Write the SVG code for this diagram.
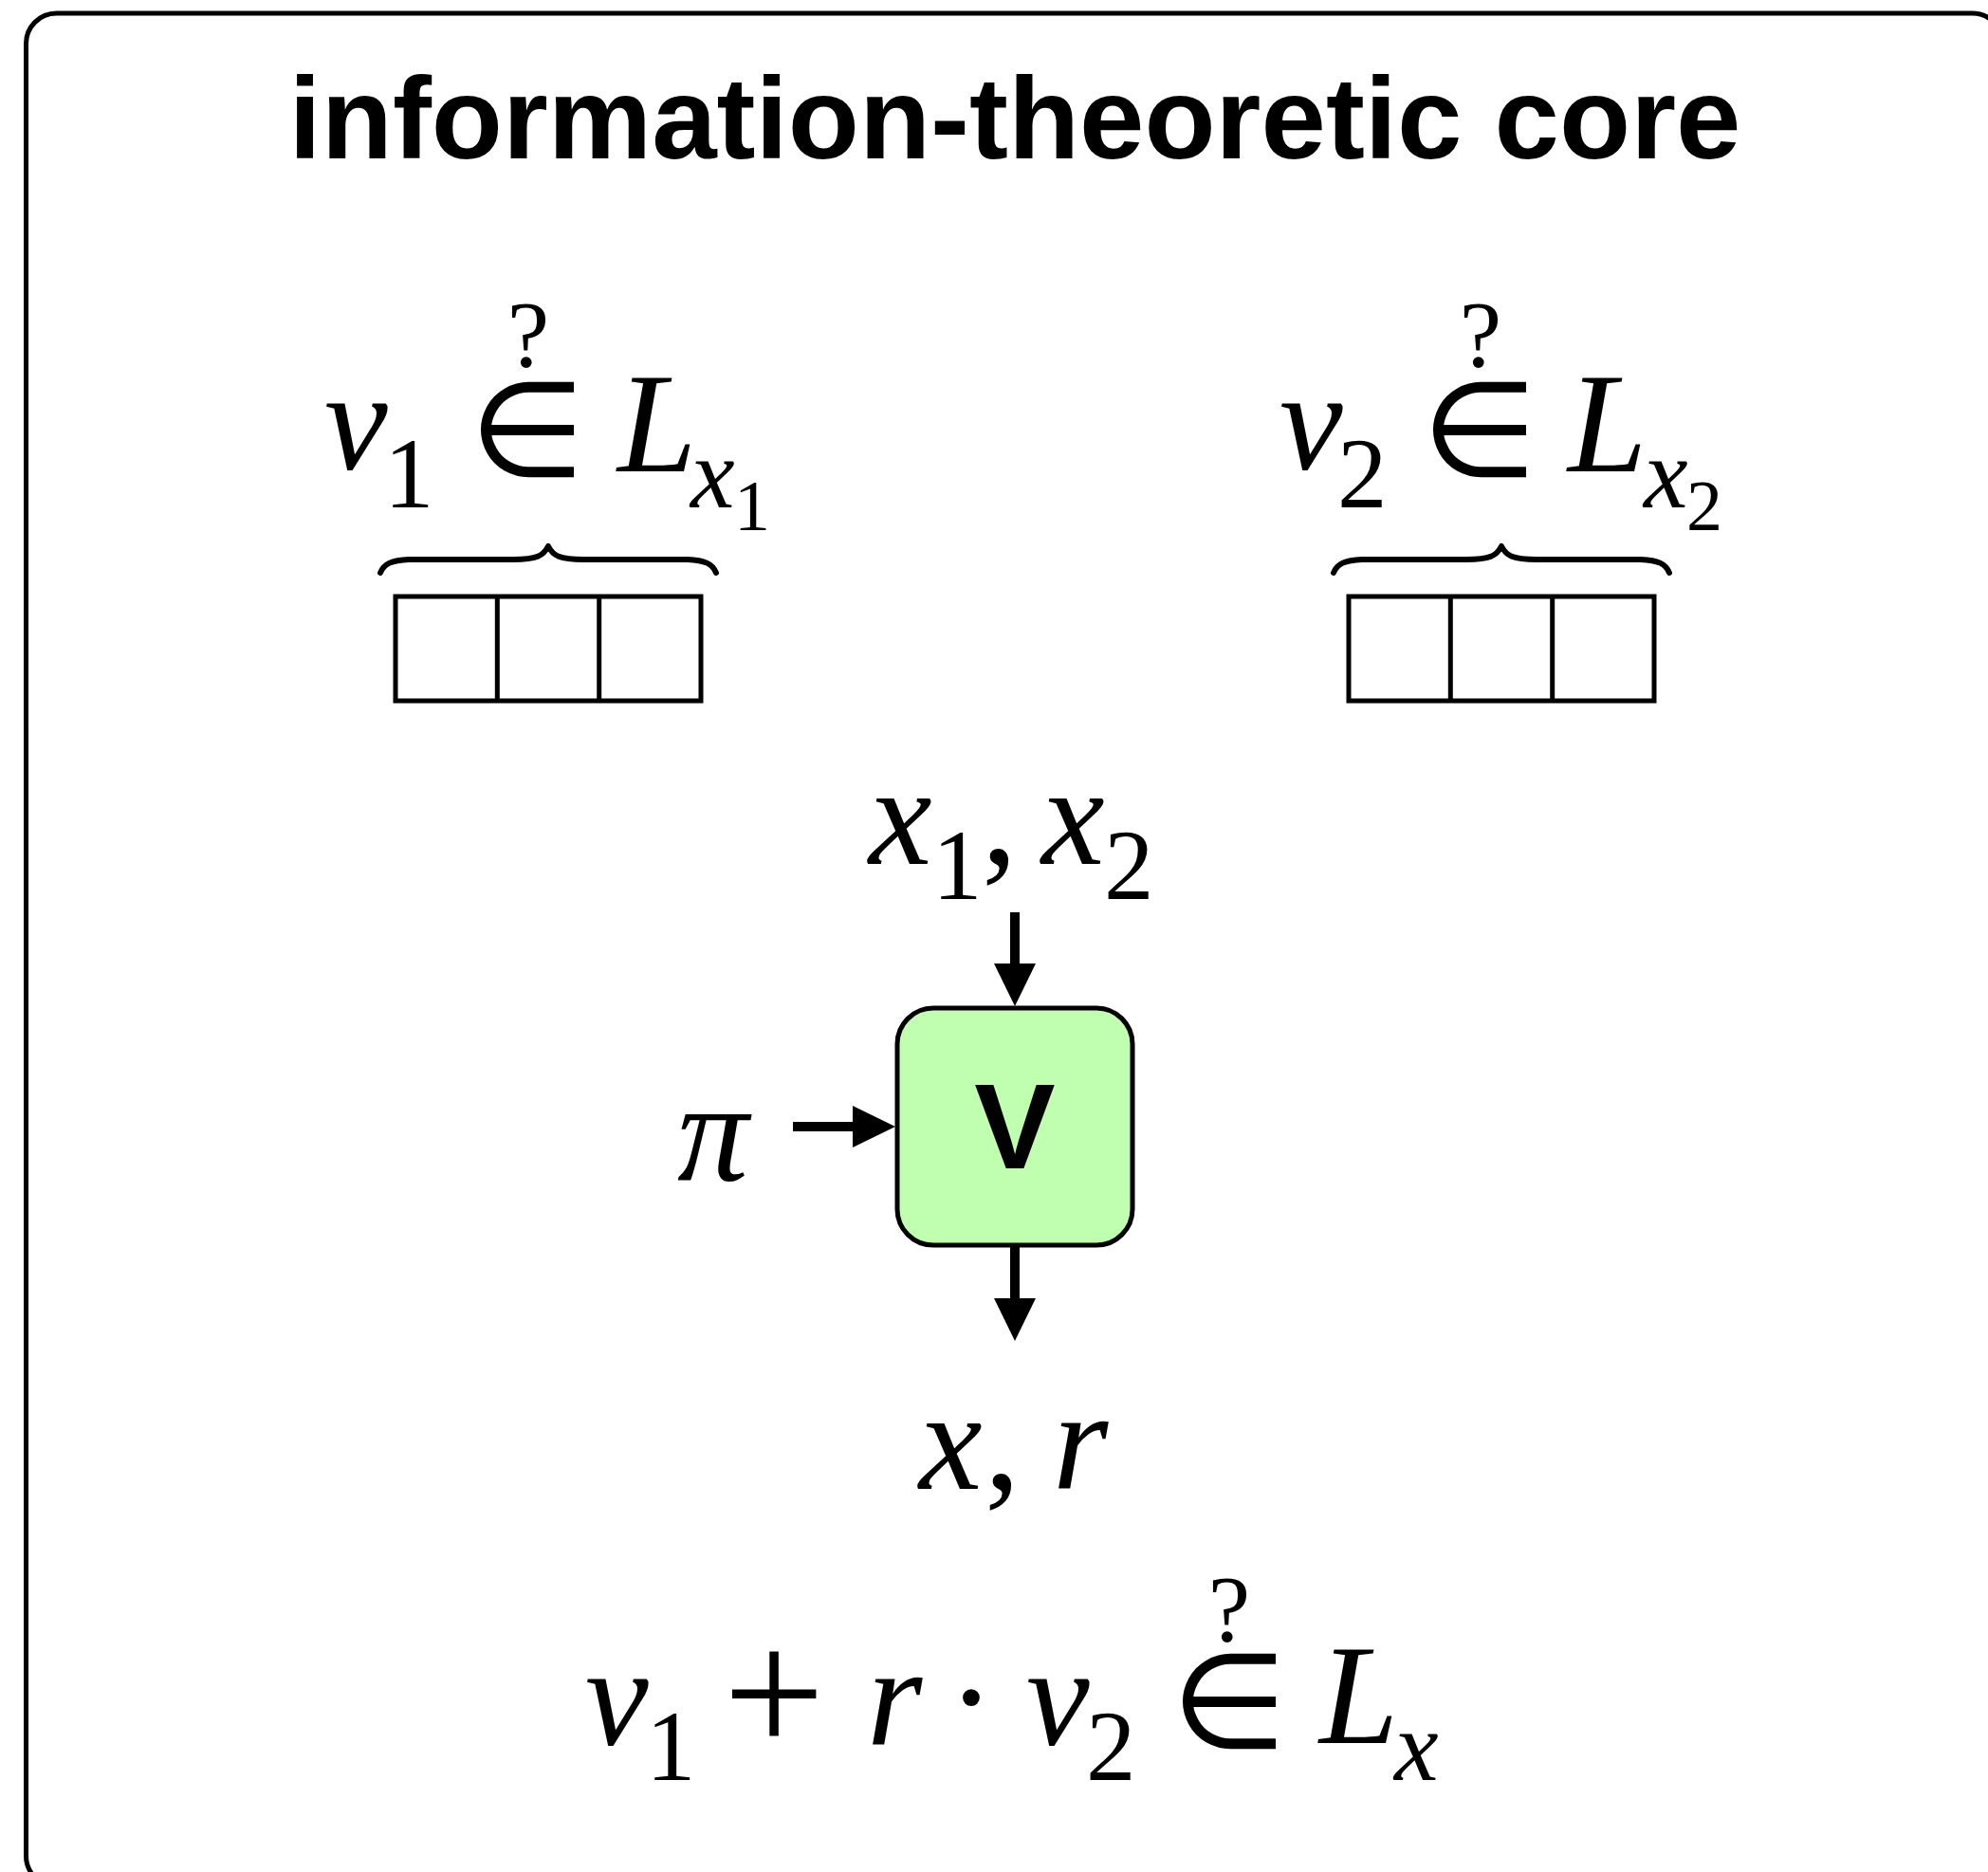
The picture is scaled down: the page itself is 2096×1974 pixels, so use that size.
<svg xmlns="http://www.w3.org/2000/svg" width="2096" height="1974" viewBox="0 0 2096 1974">
<style>
.title{font-family:"Liberation Sans",Arial,sans-serif;font-weight:700;font-size:123px;fill:#000}
.it{font-family:"Liberation Serif","Times New Roman",serif;font-style:italic;font-size:150px;fill:#000}
.sub{font-family:"Liberation Serif","Times New Roman",serif;font-size:105px;fill:#000}
.subit{font-family:"Liberation Serif","Times New Roman",serif;font-style:italic;font-size:105px;fill:#000}
.ssub{font-family:"Liberation Serif","Times New Roman",serif;font-size:76px;fill:#000}
.rm{font-family:"Liberation Serif","Times New Roman",serif;font-size:150px;fill:#000}
.q{font-family:"Liberation Serif","Times New Roman",serif;font-size:100px;fill:#000}
.elem{font-family:"DejaVu Sans",sans-serif;font-size:140px;fill:#000}
.plus{font-family:"Liberation Serif","Times New Roman",serif;font-size:190px;fill:#000}
.vlab{font-family:"Liberation Sans",Arial,sans-serif;font-weight:700;font-size:128px;fill:#000}
.cell{fill:none;stroke:#000;stroke-width:5}
.brace{fill:none;stroke:#000;stroke-width:6;stroke-linecap:round;stroke-linejoin:round}
.conn{stroke:#000;stroke-width:10;fill:none}
</style>
<defs>
<marker id="ah" markerUnits="userSpaceOnUse" markerWidth="46" markerHeight="44" viewBox="0 0 46 44" refX="1" refY="22" orient="auto">
<path d="M0,0 L45,22 L0,44 Z" fill="#000"/>
</marker>
</defs>
<rect id="frame" x="27.5" y="14" width="2084" height="1975" rx="32" fill="none" stroke="#000" stroke-width="5"/>
<text id="title" class="title" x="1070" y="167" text-anchor="middle">information-theoretic core</text>

<g id="vec1">
<text class="it" x="342" y="495">v</text>
<text class="sub" x="405" y="535">1</text>
<text class="elem" x="556" y="502" text-anchor="middle">∈</text>
<text class="q" x="557" y="386" text-anchor="middle">?</text>
<text class="it" x="651" y="497">L</text>
<text class="subit" x="728" y="535">x</text>
<text class="ssub" x="774" y="559">1</text>
<path class="brace" d="M401,604 C405,594 413,591 431,590 L541,590 C566,590 573,586 578,576 C583,586 590,590 615,590 L725,590 C743,591 751,594 755,604"/>
<rect class="cell" x="417" y="629" width="322" height="110"/>
<line class="cell" x1="524.3" y1="629" x2="524.3" y2="739"/>
<line class="cell" x1="631.7" y1="629" x2="631.7" y2="739"/>
</g>

<g id="vec2">
<text class="it" x="1349" y="495">v</text>
<text class="sub" x="1410" y="535">2</text>
<text class="elem" x="1560" y="502" text-anchor="middle">∈</text>
<text class="q" x="1561" y="386" text-anchor="middle">?</text>
<text class="it" x="1653" y="497">L</text>
<text class="subit" x="1733" y="535">x</text>
<text class="ssub" x="1778" y="559">2</text>
<path class="brace" d="M1406,604 C1410,594 1418,591 1436,590 L1546,590 C1571,590 1578,586 1583,576 C1588,586 1595,590 1620,590 L1730,590 C1748,591 1756,594 1760,604"/>
<rect class="cell" x="1422" y="629" width="322" height="110"/>
<line class="cell" x1="1529.3" y1="629" x2="1529.3" y2="739"/>
<line class="cell" x1="1636.7" y1="629" x2="1636.7" y2="739"/>
</g>

<g id="inputs">
<text class="it" x="916" y="911">x</text>
<text class="sub" x="983" y="948">1</text>
<text class="rm" x="1035" y="911">,</text>
<text class="it" x="1098" y="911">x</text>
<text class="sub" x="1164" y="948">2</text>
</g>

<g id="pi">
<text class="it" x="714" y="1245">π</text>
</g>

<g id="verifier">
<rect x="946" y="1063" width="248" height="250" rx="38" fill="#bfffaf" stroke="#000" stroke-width="5"/>
<text class="vlab" x="1070" y="1232" text-anchor="middle">V</text>
</g>

<g id="outputs">
<text class="it" x="969" y="1570">x</text>
<text class="rm" x="1038" y="1570">,</text>
<text class="it" x="1110" y="1570">r</text>
</g>

<g id="check">
<text class="it" x="617" y="1840">v</text>
<text class="sub" x="681" y="1877">1</text>
<text class="plus" x="816" y="1850" text-anchor="middle">+</text>
<text class="it" x="914" y="1840">r</text>
<text class="rm" x="1024" y="1840" text-anchor="middle">·</text>
<text class="it" x="1082" y="1840">v</text>
<text class="sub" x="1145" y="1877">2</text>
<text class="elem" x="1296" y="1843" text-anchor="middle">∈</text>
<text class="q" x="1296" y="1730" text-anchor="middle">?</text>
<text class="it" x="1391" y="1838">L</text>
<text class="subit" x="1470" y="1877">x</text>
</g>

<g id="connectors">
<line class="conn" x1="1070" y1="962" x2="1070" y2="1017" marker-end="url(#ah)"/>
<line class="conn" x1="836" y1="1188" x2="900" y2="1188" marker-end="url(#ah)"/>
<line class="conn" x1="1070" y1="1313" x2="1070" y2="1370" marker-end="url(#ah)"/>
</g>
</svg>
